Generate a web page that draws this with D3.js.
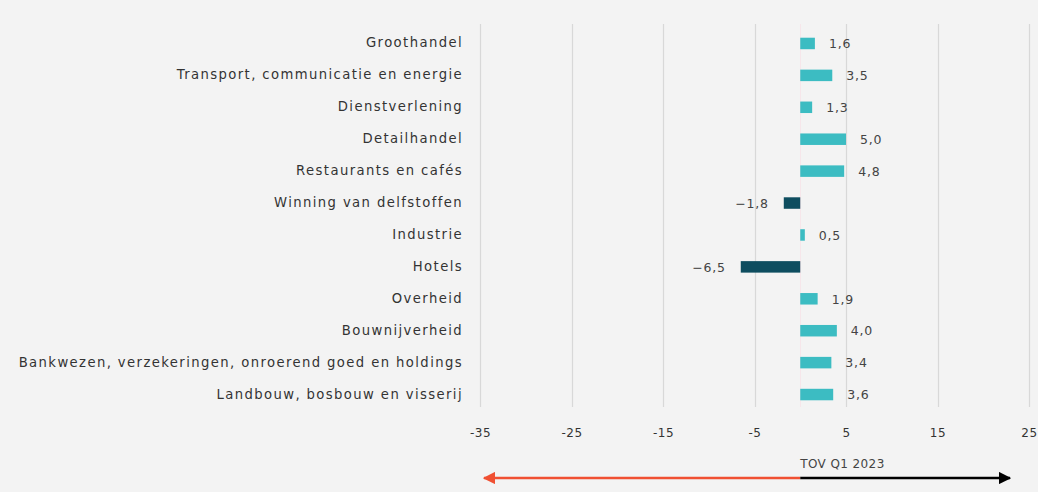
<!DOCTYPE html>
<html>
<head>
<meta charset="utf-8">
<script src="https://cdn.jsdelivr.net/npm/d3@7"></script>
<style>
  html, body { margin: 0; padding: 0; background: #f3f3f3; }
  svg { display: block; }
  text { font-family: "DejaVu Sans", sans-serif; }
</style>
</head>
<body>
<svg id="chart" width="1038" height="492"></svg>
<script>
const categories = [
  "Groothandel",
  "Transport, communicatie en energie",
  "Dienstverlening",
  "Detailhandel",
  "Restaurants en cafés",
  "Winning van delfstoffen",
  "Industrie",
  "Hotels",
  "Overheid",
  "Bouwnijverheid",
  "Bankwezen, verzekeringen, onroerend goed en holdings",
  "Landbouw, bosbouw en visserij"
];
const values = [1.6, 3.5, 1.3, 5.0, 4.8, -1.8, 0.5, -6.5, 1.9, 4.0, 3.4, 3.6];
const tickValues = [-35, -25, -15, -5, 5, 15, 25];
const axisTitle = "TOV Q1 2023";

const W = 1038, H = 492;
const svg = d3.select("#chart");
svg.append("rect").attr("width", W).attr("height", H).attr("fill", "#f3f3f3");

const x = d3.scaleLinear().domain([-35, 25]).range([480, 1029]);
const y = d3.scaleBand().domain(categories).range([27.5, 410.5]).paddingInner(0.64).paddingOuter(0.32);

const fmt = v => (v < 0 ? "\u2212" : "") + d3.format(".1f")(Math.abs(v)).replace(".", ",");

// gridlines
svg.append("g").selectAll("line").data(tickValues).join("line")
  .attr("x1", d => Math.round(x(d)) + 0.5).attr("x2", d => Math.round(x(d)) + 0.5)
  .attr("y1", 24).attr("y2", 407)
  .attr("stroke", "#d8d8d8").attr("stroke-width", 1.2);

// zero line (faint)
svg.append("line")
  .attr("x1", Math.round(x(0)) + 0.5).attr("x2", Math.round(x(0)) + 0.5)
  .attr("y1", 24).attr("y2", 407)
  .attr("stroke", "#f6e6ea").attr("stroke-width", 1);

// y axis labels
const yAxis = d3.axisLeft(y).tickSize(0).tickPadding(0);
const gy = svg.append("g").attr("transform", "translate(463,0)").call(yAxis);
gy.select(".domain").remove();
gy.selectAll("text")
  .attr("font-size", 13.2).attr("fill", "#333")
  .attr("font-family", "DejaVu Sans, sans-serif")
  .attr("letter-spacing", "1.4px")
  .attr("dy", "0.3em");

// bars
svg.append("g").selectAll("rect").data(values).join("rect")
  .attr("x", d => x(Math.min(0, d)))
  .attr("width", d => Math.abs(x(d) - x(0)))
  .attr("y", (d, i) => y(categories[i]))
  .attr("height", y.bandwidth())
  .attr("fill", d => d < 0 ? "#0e4d5f" : "#3cbcc2");

// value labels
svg.append("g").selectAll("text").data(values).join("text")
  .attr("x", d => d < 0 ? x(d) - 15 : x(d) + 14)
  .attr("y", (d, i) => y(categories[i]) + y.bandwidth() / 2)
  .attr("dy", "0.38em")
  .attr("text-anchor", d => d < 0 ? "end" : "start")
  .attr("font-size", 12.5)
  .attr("letter-spacing", "0.8px")
  .attr("fill", "#444")
  .text(d => fmt(d));

// x axis labels
const xAxis = d3.axisBottom(x).tickValues(tickValues).tickSize(0).tickPadding(0)
  .tickFormat(d => (d < 0 ? "-" : "") + Math.abs(d));
const gx = svg.append("g").attr("transform", "translate(0,428)").call(xAxis);
gx.select(".domain").remove();
gx.selectAll("text").attr("font-size", 12).attr("fill", "#333")
  .attr("font-family", "DejaVu Sans, sans-serif").attr("letter-spacing", "0.5px");

// axis title
svg.append("text")
  .attr("x", x(0)).attr("y", 468)
  .attr("font-size", 12).attr("fill", "#444")
  .attr("letter-spacing", "0.4px")
  .text(axisTitle);

// arrows
const defs = svg.append("defs");
defs.append("marker").attr("id", "arrRed").attr("viewBox", "0 0 10 10")
  .attr("refX", 9).attr("refY", 5).attr("markerWidth", 5).attr("markerHeight", 5)
  .attr("orient", "auto").attr("markerUnits", "strokeWidth")
  .append("path").attr("d", "M0,0 L10,5 L0,10 Z").attr("fill", "#f05032");
defs.append("marker").attr("id", "arrBlack").attr("viewBox", "0 0 10 10")
  .attr("refX", 9).attr("refY", 5).attr("markerWidth", 5).attr("markerHeight", 5)
  .attr("orient", "auto").attr("markerUnits", "strokeWidth")
  .append("path").attr("d", "M0,0 L10,5 L0,10 Z").attr("fill", "#000");

const arrowY = 478;
svg.append("line")
  .attr("x1", x(0)).attr("x2", 484).attr("y1", arrowY).attr("y2", arrowY)
  .attr("stroke", "#f05032").attr("stroke-width", 2.5)
  .attr("marker-end", "url(#arrRed)");
svg.append("line")
  .attr("x1", x(0)).attr("x2", 1010).attr("y1", arrowY).attr("y2", arrowY)
  .attr("stroke", "#000").attr("stroke-width", 2.5)
  .attr("marker-end", "url(#arrBlack)");
</script>
</body>
</html>
